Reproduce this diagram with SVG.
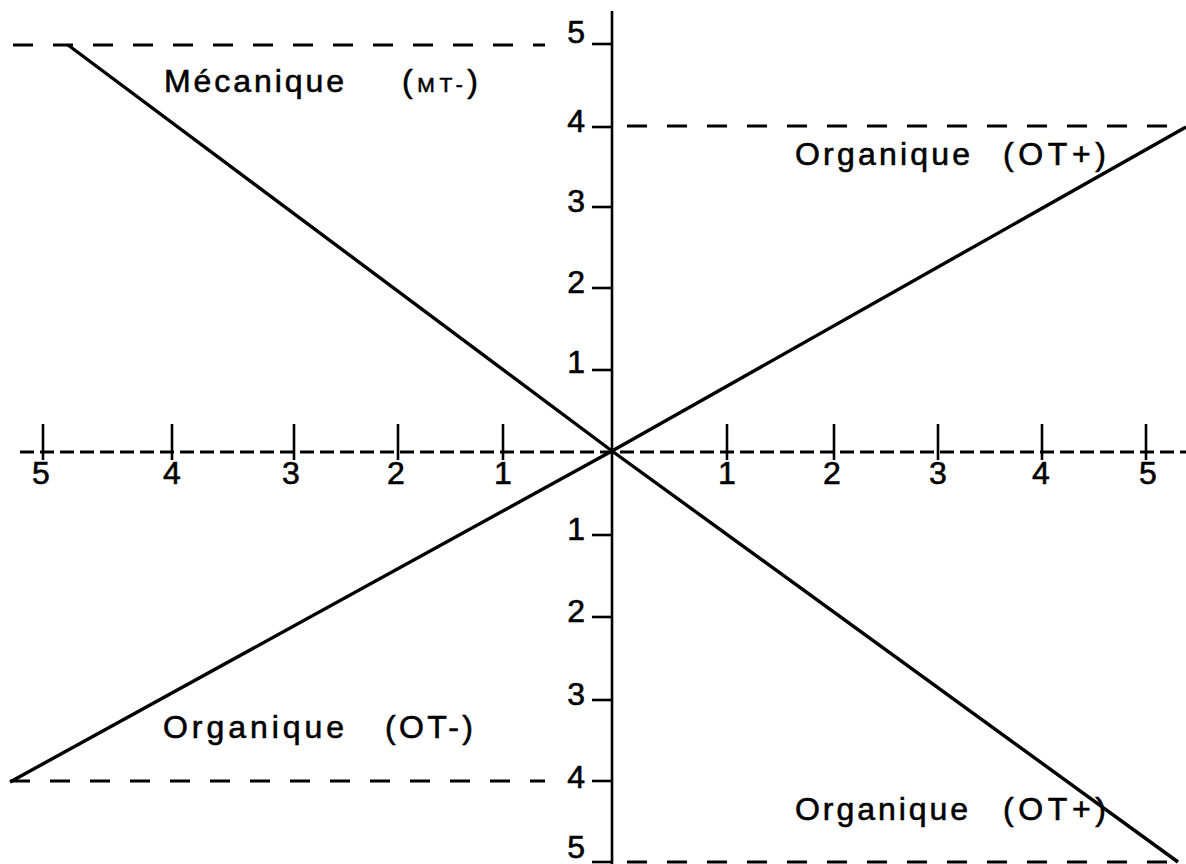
<svg xmlns="http://www.w3.org/2000/svg" width="1186" height="864" viewBox="0 0 1186 864">
<style>
.bg{fill:#ffffff}
.dash{stroke:#000;stroke-width:3.2;stroke-dasharray:20 20;fill:none}
.axdash{stroke:#000;stroke-width:3;stroke-dasharray:14 6;fill:none}
.axis{stroke:#000;stroke-width:2.6;fill:none}
.tick{stroke:#000;stroke-width:2.6;fill:none}
.curve{stroke:#000;stroke-width:3.4;fill:none;stroke-linejoin:round}
.num{font-family:"Liberation Sans",Arial,sans-serif;font-size:32px;fill:#000;stroke:#000;stroke-width:0.6}
.lbl{font-family:"Liberation Sans",Arial,sans-serif;font-size:32px;fill:#000;stroke:#000;stroke-width:0.6}
.sm{font-size:21px}
</style>
<rect class="bg" x="0" y="0" width="1186" height="864"/>
<g id="guides">
<line class="dash" x1="13" y1="45" x2="545" y2="45"/>
<line class="dash" x1="627" y1="126" x2="1186" y2="126"/>
<line class="dash" x1="10" y1="781" x2="545" y2="781"/>
<line class="dash" x1="627" y1="862" x2="1186" y2="862"/>
</g>
<g id="x-axis">
<line class="axdash" x1="20" y1="452" x2="1186" y2="452"/>
<g class="tick">
<line x1="43" y1="424" x2="43" y2="460"/>
<line x1="172" y1="424" x2="172" y2="460"/>
<line x1="294" y1="424" x2="294" y2="460"/>
<line x1="398" y1="424" x2="398" y2="460"/>
<line x1="503" y1="424" x2="503" y2="460"/>
<line x1="727" y1="424" x2="727" y2="460"/>
<line x1="834" y1="424" x2="834" y2="460"/>
<line x1="938" y1="424" x2="938" y2="460"/>
<line x1="1042" y1="424" x2="1042" y2="460"/>
<line x1="1146" y1="424" x2="1146" y2="460"/>
</g>
<g class="num" text-anchor="middle">
<text x="41" y="484">5</text>
<text x="172" y="484">4</text>
<text x="291" y="484">3</text>
<text x="396" y="484">2</text>
<text x="503" y="484">1</text>
<text x="727" y="484">1</text>
<text x="832" y="484">2</text>
<text x="938" y="484">3</text>
<text x="1041" y="484">4</text>
<text x="1148" y="484">5</text>
</g>
</g>
<g id="y-axis">
<line class="axis" x1="612" y1="11" x2="612" y2="864"/>
<g class="tick">
<line x1="592" y1="44" x2="612" y2="44"/>
<line x1="592" y1="127" x2="612" y2="127"/>
<line x1="592" y1="207" x2="612" y2="207"/>
<line x1="592" y1="288" x2="612" y2="288"/>
<line x1="592" y1="370" x2="612" y2="370"/>
<line x1="592" y1="535" x2="612" y2="535"/>
<line x1="592" y1="617" x2="612" y2="617"/>
<line x1="592" y1="700" x2="612" y2="700"/>
<line x1="592" y1="781" x2="612" y2="781"/>
<line x1="592" y1="862" x2="612" y2="862"/>
</g>
<g class="num" text-anchor="end">
<text x="585" y="43">5</text>
<text x="585" y="132">4</text>
<text x="585" y="212">3</text>
<text x="585" y="293">2</text>
<text x="585" y="373">1</text>
<text x="585" y="540">1</text>
<text x="585" y="622">2</text>
<text x="585" y="705">3</text>
<text x="585" y="788">4</text>
<text x="585" y="858">5</text>
</g>
</g>
<g id="connectors">
<polyline class="curve" points="68,45 612,451 1178,862"/>
<polyline class="curve" points="10,782 612,451 1186,127"/>
</g>
<g id="label-mt">
<text class="lbl" x="164" y="92" textLength="180" lengthAdjust="spacing">Mécanique</text>
<text class="lbl" x="402" y="92" textLength="76" lengthAdjust="spacing">(<tspan class="sm">MT-</tspan>)</text>
</g>
<g id="label-ot-plus-top">
<text class="lbl" x="795" y="165" textLength="175" lengthAdjust="spacing">Organique</text>
<text class="lbl" x="1003" y="165" textLength="103" lengthAdjust="spacing">(OT+)</text>
</g>
<g id="label-ot-minus">
<text class="lbl" x="163" y="738" textLength="181" lengthAdjust="spacing">Organique</text>
<text class="lbl" x="385" y="738" textLength="88" lengthAdjust="spacing">(OT-)</text>
</g>
<g id="label-ot-plus-bottom">
<text class="lbl" x="795" y="820" textLength="173" lengthAdjust="spacing">Organique</text>
<text class="lbl" x="1003" y="820" textLength="103" lengthAdjust="spacing">(OT+)</text>
</g>
</svg>
